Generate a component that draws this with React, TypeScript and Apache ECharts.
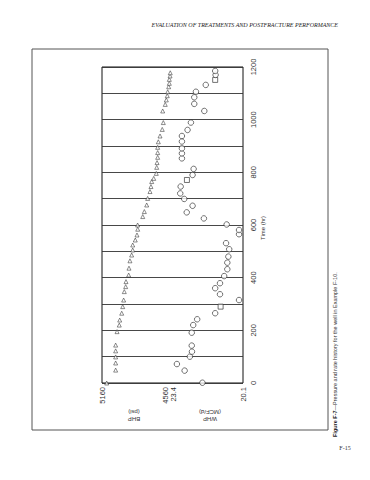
import React, { useEffect, useRef } from "react";
import * as echarts from "echarts";

// BHP series (triangles): time (hr) and bottom-hole pressure (psi)
const bhpTimes = [0, 49, 76, 99, 122, 144, 195, 220, 239, 265, 290, 315, 347, 366, 385, 410, 436, 464, 486, 505, 524, 543, 562, 584, 600, 632, 651, 676, 701, 727, 746, 765, 777, 796, 819, 837, 857, 875, 895, 916, 938, 963, 989, 1033, 1058, 1075, 1091, 1106, 1125, 1138, 1153, 1166, 1178];
const bhpValues = [5116, 5032, 5032, 5032, 5032, 5032, 5019, 4998, 4994, 4975, 4966, 4957, 4951, 4938, 4935, 4910, 4907, 4898, 4882, 4872, 4872, 4848, 4832, 4825, 4826, 4778, 4763, 4741, 4732, 4710, 4701, 4694, 4675, 4651, 4647, 4644, 4638, 4638, 4638, 4632, 4616, 4595, 4585, 4591, 4567, 4557, 4548, 4544, 4535, 4529, 4529, 4522, 4520];

// Rate series (circles): time (hr) and rate (MCF/d)
const rateTimes = [1, 47, 72, 100, 119, 142, 191, 220, 242, 265, 290, 315, 337, 360, 379, 406, 432, 457, 480, 508, 531, 565, 581, 602, 625, 648, 673, 699, 720, 746, 771, 790, 813, 853, 872, 891, 917, 938, 961, 989, 1033, 1060, 1085, 1106, 1132, 1151, 1170, 1185];
const rateValues = [22.04, 22.89, 23.26, 22.64, 22.54, 22.55, 22.55, 22.48, 22.29, 21.43, 21.17, 20.29, 21.2, 21.43, 21.2, 21.0, 20.85, 20.85, 20.8, 20.76, 20.91, 20.29, 20.29, 20.88, 21.97, 22.79, 22.51, 22.91, 23.1, 23.08, 22.78, 22.51, 22.46, 23.02, 23.02, 23.02, 23.02, 23.02, 22.75, 22.59, 21.95, 22.43, 22.43, 22.35, 21.88, 21.43, 21.41, 21.43];
// indices of rate points drawn as squares in the scan
const rateSquareIdx = [10, 30, 45];

const bhpTickLabels = [5160, 4560];
const rateTickLabels = [23.4, 20.1];
const timeRange = [0, 1200];
const bhpRange = [3838, 5160];
const rateRange = [20.1, 26.84];

export default function App() {
  const ref = useRef<HTMLDivElement>(null);
  useEffect(() => {
    if (!ref.current) return;
    const chart = echarts.init(ref.current, undefined, { renderer: "svg" });
    const font = "Liberation Sans";
    const bhpData = bhpTimes.map((t, i) => [bhpValues[i], t]);
    const rateData = rateTimes.map((t, i) =>
      rateSquareIdx.includes(i)
        ? { value: [rateValues[i], t], symbol: "rect", symbolSize: 5 }
        : [rateValues[i], t]
    );
    chart.setOption({
      animation: false,
      backgroundColor: "#fff",
      grid: { left: 102, right: 127, top: 67, bottom: 97, show: true, borderColor: "#111", borderWidth: 1 },
      xAxis: [
        {
          type: "value", inverse: true, min: bhpRange[0], max: bhpRange[1], position: "bottom",
          axisLine: { show: false }, axisTick: { show: false }, splitLine: { show: false },
          axisLabel: { customValues: bhpTickLabels, rotate: 90, fontSize: 7.5, color: "#333", fontFamily: font, margin: 4,
            formatter: (v: number) => String(v) },
        },
        {
          type: "value", inverse: true, min: rateRange[0], max: rateRange[1], position: "bottom",
          axisLine: { show: false }, axisTick: { show: false }, splitLine: { show: false },
          axisLabel: { customValues: rateTickLabels, rotate: 90, fontSize: 7.5, color: "#333", fontFamily: font, margin: 4,
            formatter: (v: number) => v.toFixed(1) },
        },
      ],
      yAxis: {
        type: "value", min: timeRange[0], max: timeRange[1], interval: 100, position: "right",
        axisLine: { show: false }, axisTick: { show: false },
        splitLine: { show: true, lineStyle: { color: "#333", width: 0.9 } },
        axisLabel: {
          formatter: (v: number) => (v % 200 === 0 ? String(v) : ""),
          rotate: 90, fontSize: 7.5, color: "#333", fontFamily: font, margin: 6,
        },
      },
      series: [
        {
          type: "scatter", xAxisIndex: 0, data: bhpData, symbol: "triangle", symbolSize: 4,
          itemStyle: { color: "#fff", borderColor: "#333", borderWidth: 0.7 },
        },
        {
          type: "scatter", xAxisIndex: 1, data: rateData, symbol: "circle", symbolSize: 5.5,
          itemStyle: { color: "#fff", borderColor: "#222", borderWidth: 0.8 },
        },
      ],
      graphic: [
        { type: "rect", shape: { x: 32, y: 49, width: 296, height: 381 }, style: { fill: "none", stroke: "#555", lineWidth: 1 } },
        { type: "text", x: 338, y: 25, style: { text: "EVALUATION OF TREATMENTS AND POSTFRACTURE PERFORMANCE", fontSize: 6, fontStyle: "italic", fontFamily: "Liberation Serif", fill: "#222", align: "right", verticalAlign: "middle" } },
        { type: "text", x: 263, y: 228, rotation: Math.PI / 2, style: { text: "Time (hr)", fontSize: 6, fontFamily: font, fill: "#333", align: "center", verticalAlign: "middle" } },
        { type: "text", x: 134, y: 415, rotation: Math.PI, style: { text: "BHP\n(psi)", fontSize: 6, lineHeight: 7, fontFamily: font, fill: "#333", align: "center", verticalAlign: "middle" } },
        { type: "text", x: 210, y: 415, rotation: Math.PI, style: { text: "WHP\n(MCF/d)", fontSize: 6, lineHeight: 7, fontFamily: font, fill: "#333", align: "center", verticalAlign: "middle" } },
        { type: "text", x: 335, y: 437, rotation: Math.PI / 2, style: {
            text: "{b|Figure F-7}—Pressure and rate history for the well in Example F-10.",
            fontSize: 5.5, fontFamily: font, fill: "#333", align: "left", verticalAlign: "middle",
            rich: { b: { fontWeight: "bold", fontSize: 5.5, fontFamily: font, fill: "#222" } } } },
        { type: "text", x: 345, y: 448, style: { text: "F-15", fontSize: 6, fontFamily: "Liberation Serif", fill: "#333", align: "center", verticalAlign: "middle" } },
      ],
    });
    return () => chart.dispose();
  }, []);
  return <div ref={ref} style={{ position: "fixed", left: 0, top: 0, width: 370, height: 480 }} />;
}
